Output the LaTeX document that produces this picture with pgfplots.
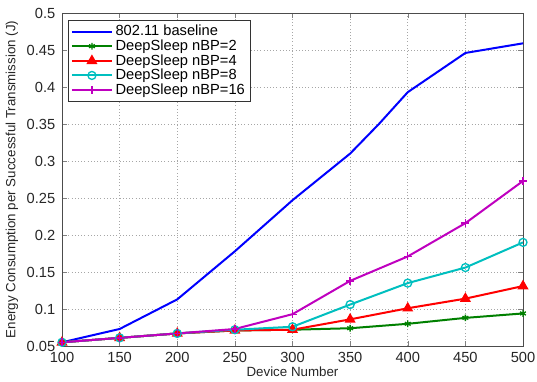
\documentclass[border=0pt]{standalone}
\usepackage{pgfplots}
\pgfplotsset{compat=1.18}
\usepackage{fontspec}
\setmainfont{Liberation Sans}
\definecolor{mgreen}{rgb}{0,0.5,0}
\definecolor{mcyan}{rgb}{0,0.75,0.75}
\definecolor{mmag}{rgb}{0.75,0,0.75}
\begin{document}
\begin{tikzpicture}
\begin{axis}[
  name=ax,
  scale only axis,
  width=345.75pt, height=249.75pt,
  xmin=100, xmax=500, ymin=0.05, ymax=0.5,
  xtick={100,150,...,500},
  ytick={0.05,0.1,...,0.5},
  yticklabels={0.05,0.1,0.15,0.2,0.25,0.3,0.35,0.4,0.45,0.5},
  /pgf/number format/assume math mode=true,
  tick label style={font=\fontsize{11}{12}\selectfont, color=black!85},
  yticklabel style={xshift=-1.5pt},
  xticklabel style={yshift=-1pt},
  label style={font=\fontsize{10}{11}\selectfont, color=black!85},
  xlabel={Device Number},
  ylabel={Energy Consumption per Successful Transmission (J)},
  xlabel style={at={(axis description cs:0.5,-0.078)}, anchor=center},
  ylabel style={at={(axis description cs:-0.1085,0.5)}, anchor=center},
  tick align=inside,
  major tick length=4pt,
  grid=major,
  major grid style={dotted, gray!70},
  axis line style={black!70},
  legend style={at={(0.013,0.98)}, anchor=north west, draw=black!80,
    font=\fontsize{11}{12}\selectfont, row sep=-2.5pt, inner sep=2pt},
  legend cell align=left,
  legend image code/.code={\draw[mark repeat=2,mark phase=2] plot coordinates {(0pt,0pt) (15pt,0pt) (30pt,0pt)};},
  every axis plot/.append style={line width=1.5pt},
]
\addplot[color=blue, no marks] coordinates {
(100,0.055) (150,0.073) (200,0.113) (250,0.178) (300,0.247) (350,0.310) (375,0.350) (400,0.393) (450,0.446) (500,0.459)};
\addlegendentry{802.11 baseline}
\addplot[color=mgreen, mark=asterisk, mark size=2.5pt, mark options={line width=1pt}] coordinates {
(100,0.055) (150,0.061) (200,0.067) (250,0.071) (300,0.072) (350,0.074) (400,0.080) (450,0.088) (500,0.094)};
\addlegendentry{DeepSleep nBP=2}
\addplot[color=red, mark=triangle*, mark size=3.8pt, mark options={line width=1pt, fill=red}] coordinates {
(100,0.055) (150,0.061) (200,0.067) (250,0.071) (300,0.072) (350,0.086) (400,0.101) (450,0.114) (500,0.131)};
\addlegendentry{DeepSleep nBP=4}
\addplot[color=mcyan, mark=o, mark size=3pt, mark options={line width=1pt}] coordinates {
(100,0.055) (150,0.061) (200,0.067) (250,0.072) (300,0.076) (350,0.106) (400,0.135) (450,0.156) (500,0.190)};
\addlegendentry{DeepSleep nBP=8}
\addplot[color=mmag, mark=+, mark size=3pt, mark options={line width=1pt}] coordinates {
(100,0.055) (150,0.061) (200,0.067) (250,0.073) (300,0.093) (350,0.138) (400,0.171) (450,0.216) (500,0.273)};
\addlegendentry{DeepSleep nBP=16}
\end{axis}
\pgfresetboundingbox
\path[use as bounding box] ([shift={(-46.5pt,-26.25pt)}]ax.south west) rectangle ([shift={(10.5pt,9.75pt)}]ax.north east);
\end{tikzpicture}
\end{document}
